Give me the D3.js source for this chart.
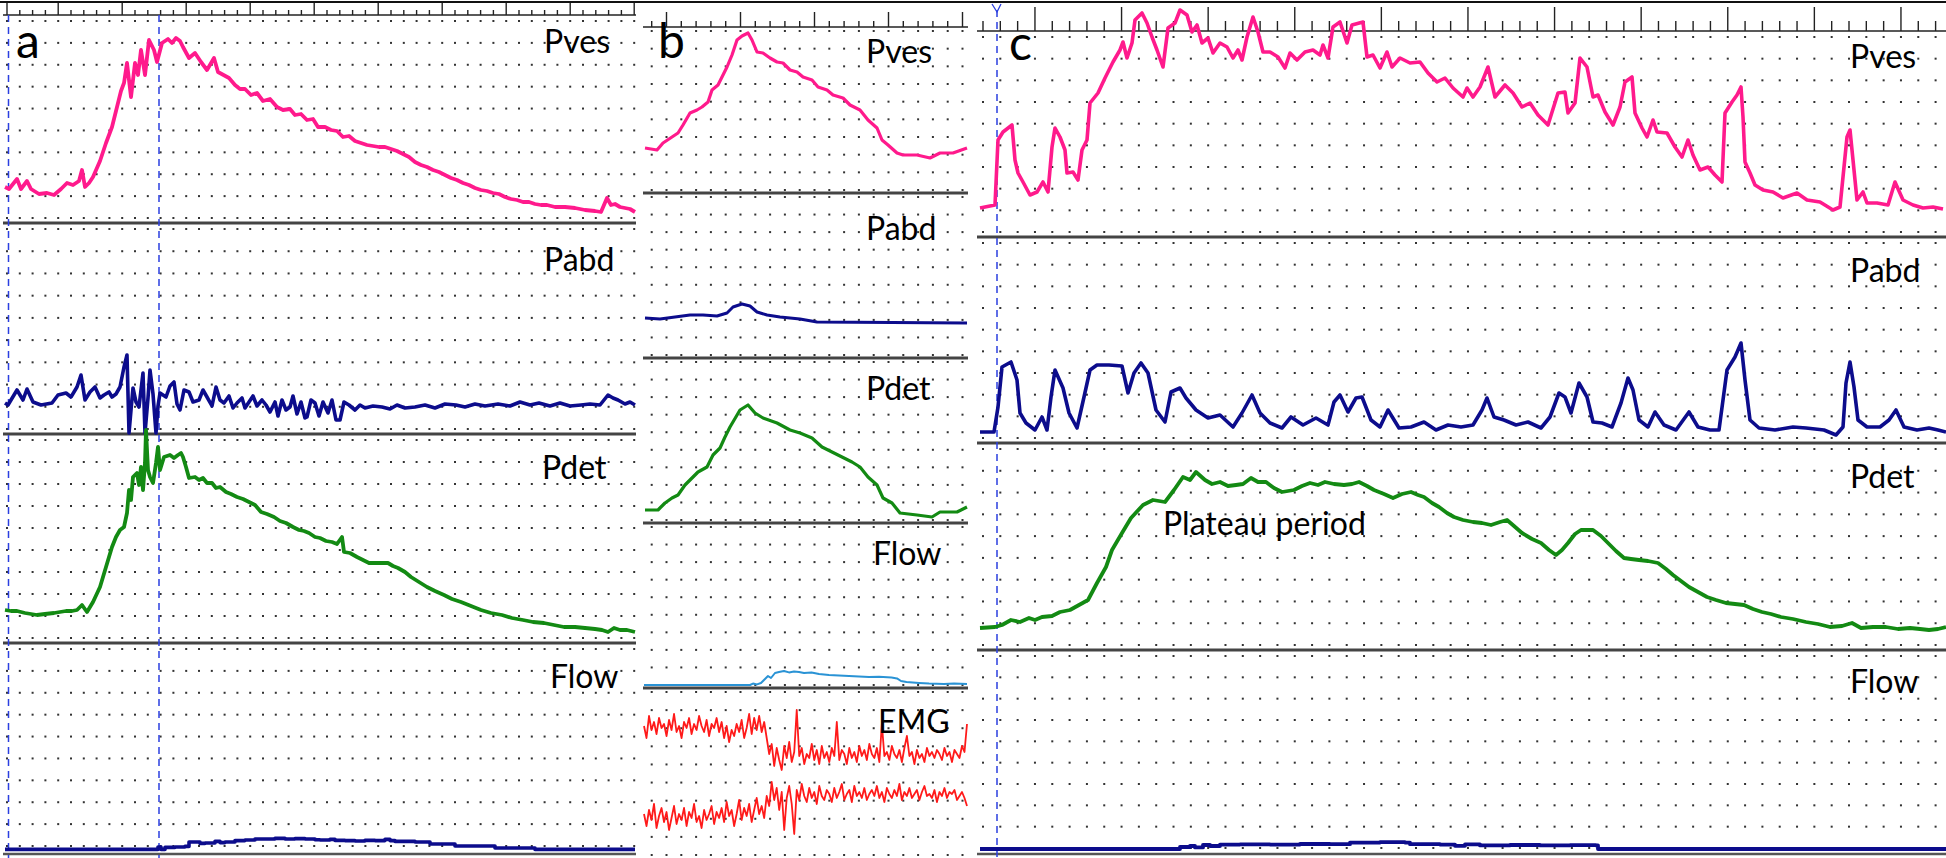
<!DOCTYPE html>
<html>
<head>
<meta charset="utf-8">
<script src="https://cdn.jsdelivr.net/npm/d3@7"></script>
<style>
  html, body { margin: 0; padding: 0; background: #fff; }
  svg { display: block; }
</style>
</head>
<body>
<div id="chart"></div>
<script>

// ---- data: [time (s), value] ----

const aPves = [[0,18],[0.4,17],[1.2,22],[1.6,17],[2.2,21],[2.6,17],[3.4,14.5],[4.2,15],[4.9,14],[5.6,17],[6.2,20],[6.8,19],[7.4,21],[7.7,26.5],[8.0,18],[8.4,20],[8.8,23],[9.5,31],[10.1,40],[10.7,48],[11.2,58],[11.6,66],[11.9,70],[12.2,80],[12.6,63],[13.0,80],[13.3,74],[13.6,86.5],[14.0,74],[14.4,91.5],[14.9,86.5],[15.2,80.5],[15.7,90],[16.3,92],[16.7,90],[17.1,92.5],[17.5,91],[17.8,88],[18.4,82.5],[19.0,85],[19.6,80.5],[20.2,76.5],[20.9,82.5],[21.3,75.5],[22.4,72.5],[23.0,69],[23.5,67],[24.0,67],[24.6,64],[25.2,65],[25.8,61],[26.5,62],[27.2,58],[27.8,56.5],[28.5,57],[29.0,54],[29.6,54.5],[30.2,51.5],[30.8,52],[31.3,48],[32.0,48],[32.6,46.5],[33.2,46],[33.8,43],[34.4,43.5],[35.0,41],[35.6,40],[36.2,39],[36.8,38.5],[37.4,38],[38.0,38],[38.6,37],[39.2,36],[39.8,34.5],[40.4,33],[41,30.5],[41.6,29],[42.2,28],[42.8,26.5],[43.4,25.5],[44,24],[44.6,22.5],[45.2,21.5],[45.8,20],[46.4,19],[47,17.5],[47.6,16.5],[48.2,16],[48.8,15],[49.4,14.5],[50,13],[50.6,12],[51.2,11.5],[51.8,10.5],[52.4,10.5],[53,9.5],[53.6,9],[54.2,9],[55,8],[56,8],[57,7.5],[58,6.5],[59,6],[59.6,5.5],[60.2,12.5],[60.6,9],[61,9.5],[61.5,8],[62,7.5],[62.5,7],[63,5.5]];

const aPabd = [[0,15.5],[0.3,14.5],[1.2,22],[1.8,17],[2.2,22.5],[2.8,16],[3.6,14.5],[4.7,15.5],[5.3,19.5],[6.1,20.5],[6.6,18.5],[7.2,23.5],[7.6,29.5],[8.0,17],[8.5,21],[9.0,23.5],[9.5,18],[9.9,19.5],[10.4,21],[10.7,18.5],[11.1,20],[11.5,23.5],[11.9,33.5],[12.2,39.5],[12.4,0.5],[12.6,12],[12.8,23],[13.1,16],[13.4,13.5],[13.8,30.5],[14.0,0.5],[14.3,18],[14.5,32],[14.8,20],[15.1,0.5],[15.3,14],[15.5,20.5],[16.1,18.5],[16.5,24],[16.9,26],[17.2,15],[17.5,12],[17.9,22],[18.4,21],[18.8,16],[19.4,17],[19.8,22],[20.2,18.5],[20.7,14],[21.1,23.5],[21.5,17],[21.9,15.5],[22.4,19],[22.8,13],[23.2,15.5],[23.7,18],[24.0,13],[24.4,16],[24.8,19],[25.2,14],[25.7,17],[26.1,14.5],[26.5,11],[27,16],[27.3,9],[27.7,17],[28.1,12],[28.5,13.5],[28.8,19],[29.2,10],[29.6,16],[30,8],[30.2,8.5],[30.6,17],[31.0,15.5],[31.4,9],[31.8,16],[32.3,10.5],[32.7,17],[33.1,7],[33.5,7],[33.9,16],[34.4,14.5],[35,12],[35.5,14.5],[36.0,13],[36.8,14],[37.7,13.5],[38.5,12.5],[39.2,14.5],[40,13],[41.0,13.5],[42,14.5],[43,13],[44,15],[45.1,14.5],[46,13.5],[47,15],[48,14],[49.3,15],[50.5,14],[51.5,16],[52.5,14.5],[53.4,15.5],[54.5,14],[55.5,15.5],[56.5,14],[57.6,14.5],[58.5,15],[59.5,14.5],[60.3,19.5],[60.8,18],[61.3,17],[62,15],[62.5,16],[63.0,14.5]];

const aPdet = [[0,16.5],[0.6,16],[1.2,16],[2,15],[2.6,14.5],[3.2,14],[4,14.5],[4.9,15],[5.5,15.5],[6.1,16],[6.7,16],[7.2,16.5],[7.7,19],[8.2,15.5],[8.8,20.5],[9.5,28],[10.1,38],[10.7,48],[11.1,53],[11.5,56.5],[11.9,58],[12.2,65],[12.4,76.5],[12.6,71.5],[12.8,83],[13.2,85],[13.4,79],[13.6,88],[13.8,76.5],[14.0,90],[14.1,106.5],[14.3,86.5],[14.5,83],[14.8,80],[15.1,90],[15.3,98],[15.5,86.5],[15.9,93],[16.5,94],[16.9,92.5],[17.3,94],[17.6,95],[17.8,93],[18.1,88],[18.4,82.5],[19.0,83],[19.4,81.5],[19.8,82.5],[20.2,80],[20.7,80],[21.1,77.5],[21.5,78],[22.1,75.5],[22.6,74.5],[23.2,73],[23.8,72],[24.4,70.5],[25,69],[25.6,65.5],[26.2,64.5],[26.9,63],[27.5,61],[28.1,60],[28.8,58],[29.4,56.5],[29.9,56],[30.4,55],[31,53],[31.5,52.5],[32.1,51],[32.7,50.5],[33.2,49.5],[33.7,53],[33.9,45.5],[34.5,45],[35.2,43],[35.8,41.5],[36.4,40],[37,40],[37.6,40],[38.3,40],[38.8,38.5],[39.3,37.5],[40,35.5],[40.6,33],[41.4,30.5],[42.2,28],[43,26],[43.9,24],[44.7,22],[45.6,20.5],[46.6,18.5],[47.6,16.5],[48.6,15],[49.7,14],[50.7,12.5],[51.8,11.5],[52.8,10.5],[53.9,10],[54.9,9],[55.9,8],[57,8],[58.0,7.5],[59,7],[59.7,6.5],[60.3,5.5],[60.9,7.5],[61.5,6.5],[62.2,6.5],[63.0,5.5]];

const aFlow = [[0,0.8],[15.0,0.8],[15.3,2],[15.6,0.8],[16,1.8],[17,2],[18,2.3],[18.4,4.5],[19,4.5],[19.5,3.8],[20,4],[21,4.8],[21.5,4.2],[22,4.5],[23,5.2],[24,5.5],[25,6],[26,6],[27,6.3],[28,6],[29,6.2],[30,6],[31,5.6],[31.5,5.5],[32.5,5.8],[33,5.3],[34,5.2],[35,5],[36,5.3],[37,5.2],[38,5.8],[38.5,5.2],[39,4.8],[41,4.5],[42.5,3.5],[44.5,3.5],[45,2.5],[48.5,2.5],[49,1.5],[52,1.5],[53,0.8],[63,0.8]];

const bPves = [[0.2,22.5],[2.6,21.5],[3.8,25],[5.6,28],[6.8,30],[7.8,34],[9.2,40],[10.6,41.5],[11.6,43],[12.8,45.5],[13.6,51.5],[14.8,54],[15.8,59],[16.6,63],[17.6,69],[18.6,76.5],[19.6,78.5],[20.8,80],[21.6,76.5],[22.6,70.5],[23.8,70],[25.2,67.5],[26.6,65.5],[27.8,65],[29.2,61.5],[30.6,60.5],[31.8,58],[33.6,56.5],[34.8,53],[36.6,51.5],[37.8,49],[39.8,47.5],[41.2,44],[43.2,41.5],[44.8,36.5],[46.6,32.5],[47.6,26.5],[48.8,24],[50.6,20],[51.8,19],[54.6,19],[57.2,17.5],[59.2,20],[61.8,20],[64.6,22.5]];

const bPabd = [[0.2,20],[3.2,19.5],[9.2,21.5],[11.8,21.5],[14.6,21],[16.6,22.5],[17.8,25.5],[19.6,27],[21.2,26],[22.6,23],[24.6,21.5],[27.2,20.5],[31.2,19.5],[34.6,18],[64.6,17.5]];

const bPdet = [[0.2,6.5],[2.8,6.5],[4.2,10],[5.6,12.5],[6.8,14],[8.2,19],[9.6,22.5],[10.8,25.5],[12.6,28],[13.8,34],[15.2,37.5],[16.2,43],[17.2,48],[19.2,56.5],[20.8,59],[22.2,55],[23.8,52.5],[26.6,50],[29.2,46.5],[31.2,45],[33.6,42.5],[35.6,38],[37.6,35.5],[39.6,33],[41.6,30.5],[43.2,28],[44.8,23],[46.6,19],[47.8,12.5],[49.6,10],[51.2,5],[54.6,4],[57.6,3],[59.2,5.5],[62.6,5.5],[64.6,8]];

const bFlow = [[0,1.5],[21.2,1.5],[21.8,2.2],[22.6,1.8],[23.4,2.5],[24.2,4.5],[24.8,6],[25.4,5],[26.2,7.5],[27,8],[28,8.5],[29,7.8],[30,8.3],[31,8],[32,7.5],[33.5,7.8],[35,7],[37,6.5],[39,6.2],[41,6],[43,5.8],[45,5.5],[47,5.6],[49.5,5.2],[50.6,4.8],[51.4,3.5],[52.5,3],[55,2.5],[57,2.2],[60,2],[62,2.3],[64.6,2]];

// EMG: equally spaced samples over the whole b trace
const emgUpper = [66,60,71,64,68,62,70,65,67,61,69,64,72,63,66,60,68,65,70,62,67,64,71,66,63,69,61,67,65,70,63,68,60,66,58,64,61,67,63,69,60,65,72,62,70,64,71,63,68,60,52,57,46,55,49,44,56,50,58,48,53,74,51,55,47,52,50,57,49,54,47,56,50,53,48,55,51,68,49,54,52,47,55,50,53,48,56,51,54,49,57,52,50,55,48,67,51,53,49,56,52,50,54,48,55,61,51,53,47,54,50,52,48,55,51,53,50,54,52,49,55,51,53,48,54,52,50,56,53,67];
const emgLower = [22,16,24,19,27,15,21,25,18,23,14,20,26,17,22,19,25,16,23,20,27,18,21,15,24,19,22,26,17,23,20,25,18,28,21,24,16,22,29,19,25,21,27,18,24,30,22,26,20,31,26,38,29,35,24,33,14,30,36,27,12,34,29,37,31,28,35,30,33,27,36,31,29,34,32,28,35,30,33,37,29,32,34,28,36,31,33,30,35,29,32,34,31,36,30,33,28,35,32,30,34,31,37,29,33,31,35,30,32,34,29,33,36,31,32,30,34,28,33,31,35,30,33,32,34,29,31,33,30,26];

const cPves = [[0,14.5],[1.5,16],[1.8,48.5],[2.3,52.5],[3.2,56],[3.5,38.5],[3.8,32],[4.3,27.5],[5.0,21],[5.7,22.5],[6.3,27.5],[6.8,22.5],[7.2,45],[7.5,54.5],[8.0,50],[8.5,43.5],[8.7,32],[9.3,32.5],[9.8,28.5],[10.2,43.5],[10.7,48.5],[11.0,67],[11.8,72],[12.5,79.5],[13.3,87.5],[14.0,93.5],[14.3,97.5],[14.7,89.5],[15.2,97],[15.5,108.5],[16.2,112],[16.7,107],[17.2,100],[17.7,93.5],[18.3,85],[18.8,104.5],[19.5,107],[20.0,113.5],[20.7,111],[21.2,102.5],[21.7,106],[22.2,97],[22.8,99.5],[23.3,92],[24.0,97],[24.7,95],[25.3,89.5],[25.8,93.5],[26.2,88.5],[26.7,100],[27.3,110],[27.8,102.5],[28.3,92.5],[29.0,92.5],[29.8,90],[30.5,84.5],[31.0,92],[31.7,88.5],[32.5,92.5],[33.3,93.5],[34.0,91],[34.3,96],[34.8,89.5],[35.3,105],[36.0,107.5],[36.7,97],[37.2,106],[38.3,107.5],[38.7,90],[39.3,91],[40.0,84.5],[40.7,92.5],[41.2,85],[42.0,89.5],[43.0,87],[44.0,87.5],[44.8,82],[45.7,77.5],[46.5,79.5],[47.3,74.5],[48.3,70],[48.7,74.5],[49.3,70],[50.0,75],[50.8,85],[51.5,70],[52.5,76],[53.3,72],[54.2,65],[55.0,67],[55.8,61],[56.8,56],[57.8,72],[58.5,72.5],[58.8,62],[59.5,67],[60.0,89.5],[60.7,85],[61.3,70],[61.8,71],[62.5,62.5],[63.3,56],[64.0,65],[64.5,77.5],[65.2,80],[65.5,62],[66.2,54.5],[66.7,50],[67.3,58.5],[67.7,52.5],[68.7,52],[69.5,45],[70.2,40],[70.8,48.5],[71.3,41],[72.0,33.5],[72.8,35],[73.5,31],[74.2,27.5],[74.5,62],[75.2,67.5],[75.7,71],[76.1,75],[76.3,60],[76.5,37.5],[77.0,32],[77.5,26],[78.3,23.5],[79.3,22.5],[80.3,19.5],[81.7,22],[82.7,18.5],[84.0,17.5],[85.3,13.5],[86.0,15],[86.7,50],[87.0,53.5],[87.3,38.5],[87.7,18.5],[88.3,22.5],[88.7,17],[89.7,17],[90.8,16],[91.5,27.5],[92.3,18.5],[93.3,16],[94.3,14.5],[95.3,15],[96.3,14]];

const cPabd = [[0,5.5],[1.4,5.5],[1.8,18],[2.2,38],[3.1,40.5],[3.7,31.5],[4.0,15],[4.6,10],[5.5,6.5],[6.2,13],[6.7,6.5],[7.1,23],[7.5,36.5],[8.3,27.5],[8.9,15],[9.7,7.5],[10.4,23],[11.0,36.5],[11.7,39],[12.9,39],[14.2,38.5],[14.8,25],[15.4,35],[16.1,40],[16.8,35],[17.6,16.5],[18.5,10.5],[19.1,25.5],[20.0,27.5],[20.6,22.5],[21.6,16.5],[22.8,12.5],[24.0,14],[25.3,8],[26.2,15],[27.2,24],[28.0,15],[29.0,10],[30.2,7.5],[31.1,13],[32.3,9],[33.6,12.5],[34.8,9],[35.4,20.5],[36.0,24],[36.8,15.5],[37.6,22.5],[38.2,23],[39.1,11.5],[40.0,8],[40.8,16.5],[41.9,7.5],[43.1,8],[44.4,10.5],[45.6,6.5],[46.8,9],[48.1,8],[49.3,9],[50.2,16.5],[50.7,22.5],[51.4,13],[52.4,11.5],[53.6,9],[54.8,10.5],[56.1,7.5],[57.0,13],[57.9,25],[58.5,23],[59.1,15],[59.9,30],[60.7,23],[61.3,10.5],[62.2,10],[63.2,8],[64.1,20],[64.8,32.5],[65.3,26.5],[65.9,11.5],[66.8,8],[67.5,15.5],[68.4,9],[69.6,6.5],[70.9,15.5],[71.8,8],[73.0,6.5],[73.9,6.5],[74.7,36.5],[75.5,43],[76.1,50],[76.5,31.5],[77.0,11.5],[77.9,7.5],[79.5,6.5],[81.3,8],[82.6,7.5],[84.4,6.5],[85.6,4],[86.3,8],[86.6,30],[87.0,40.5],[87.4,28],[87.8,11.5],[88.7,8],[90.0,8],[90.9,11.5],[91.6,16.5],[92.4,8],[93.7,6.5],[94.9,7.5],[95.8,6.5],[96.6,5.5]];

const cPdet = [[0,11],[1.5,11.5],[2.2,12.5],[3.1,15],[4.0,14],[4.9,16],[5.5,15],[6.2,16.5],[7.2,17],[8.0,19],[9.0,20],[9.9,22.5],[10.8,25],[11.7,33.5],[12.6,41.5],[13.2,50],[14.2,58.5],[15.1,66],[16.3,72.5],[17.3,75],[18.5,74],[19.4,80],[20.3,86.5],[21.0,85],[21.6,89],[22.5,85],[23.2,83],[24.0,84],[24.8,82],[25.6,82.5],[26.3,83],[27.1,86],[27.8,84],[28.6,84],[29.4,81],[30.2,79],[31.4,80],[32.2,82],[33.0,83.5],[33.8,82.5],[34.5,84],[35.4,83],[36.4,82.5],[37.2,83],[37.9,84],[38.7,82],[39.4,80],[40.4,78],[41.3,76],[42.2,78],[43.1,79],[43.8,77.5],[44.4,76.5],[45.2,73.5],[45.9,71.5],[46.7,68.5],[47.4,66.5],[48.3,65],[49.3,64],[50.2,63.5],[51.1,62.5],[52.0,64],[52.7,65],[53.4,62],[54.2,58.5],[55.2,55.5],[56.1,53.5],[56.9,50],[57.6,47.5],[58.2,50],[58.8,53.5],[59.5,58],[60.1,60],[61.3,60],[62.1,57],[62.8,53.5],[63.6,49.5],[64.4,46],[65.1,45.5],[65.9,45],[66.8,44.5],[67.8,43.5],[68.6,40.5],[69.3,37.5],[70.1,34.5],[70.9,31.5],[71.8,29],[72.7,26.5],[73.6,25],[74.6,23.5],[75.5,23],[76.4,22.5],[77.3,20.5],[78.2,19],[79.1,18],[80.1,16.5],[81.3,15.5],[82.6,14],[83.8,13],[85.0,11.5],[86.2,12],[87.2,13.5],[88.1,11],[89.3,11.5],[90.6,11.5],[91.8,10.5],[93.0,11],[94.0,10.5],[94.9,10],[95.8,10.5],[96.6,11.5]];

const cFlow = [[0,2],[19.4,2],[20,3],[21,3.5],[21.5,2.8],[22.3,4],[23,3.5],[24,4.2],[26,4.3],[29,4.2],[32,4.5],[35,4.4],[37,5.2],[40,5.4],[42.5,5.2],[43,4.4],[46,4.2],[47.5,3.6],[48.5,4.3],[50,3.8],[53,4.0],[56,3.8],[59,3.9],[61.6,3.8],[61.8,2],[96.6,2]];

const panelLetters = ["a", "b", "c"];
const channelNames = ["Pves", "Pabd", "Pdet", "Flow", "EMG"];
const annotation = "Plateau period";

// ---- layout ----

const width = 1946;
const height = 858;

const colPves = "#ff1a8c";
const colPabd = "#0c0c8c";
const colPdet = "#138a13";
const colFlowB = "#2a93d5";
const colEmg = "#ff1a1a";

const panels = [
  {
    letter: panelLetters[0], letterPos: [16, 58],
    left: 3, right: 636, x0: 5, x1: 635, tMax: 63,
    rulerY: 15, majorTop: 3, minorTop: 10,
    tickStart: 0.2, tickStep: 1.28, majorPhase: 4, firstMajor: true,
    rowInset: [6, 5], bottomLine: 854,
    cursors: [0.35, 15.4], cursorTop: 15,
    strips: [
      { name: channelNames[0], top: 15, bottom: 223, label: [544, 53],
        series: [{ data: aPves, color: colPves, w: 3.8 }] },
      { name: channelNames[1], top: 223, bottom: 434, label: [544, 271],
        series: [{ data: aPabd, color: colPabd, w: 3.6 }] },
      { name: channelNames[2], top: 434, bottom: 643, label: [542, 479],
        series: [{ data: aPdet, color: colPdet, w: 3.8 }] },
      { name: channelNames[3], top: 643, bottom: 851, label: [550, 688],
        series: [{ data: aFlow, color: colPabd, w: 3.6, step: true }] }
    ]
  },
  {
    letter: panelLetters[1], letterPos: [658, 58],
    left: 643, right: 968, x0: 644, x1: 967, tMax: 64.6,
    rulerY: 27, majorTop: 12, minorTop: 21,
    tickStart: 1.54, tickStep: 2.96, majorPhase: 1, firstMajor: false,
    rowInset: [4, 3], bottomLine: null,
    cursors: [], cursorTop: 0,
    strips: [
      { name: channelNames[0], top: 27, bottom: 193, label: [866, 63],
        series: [{ data: bPves, color: colPves, w: 3.2 }] },
      { name: channelNames[1], top: 193, bottom: 358, label: [866, 240],
        series: [{ data: bPabd, color: colPabd, w: 3 }] },
      { name: channelNames[2], top: 358, bottom: 523, label: [866, 400],
        series: [{ data: bPdet, color: colPdet, w: 3.2 }] },
      { name: channelNames[3], top: 523, bottom: 688, label: [873, 565],
        series: [{ data: bFlow, color: colFlowB, w: 2 }] },
      { name: channelNames[4], top: 688, bottom: 858, label: [878, 733],
        series: [
          { data: emgUpper, color: colEmg, w: 1.8, indexed: true },
          { data: emgLower, color: colEmg, w: 1.8, indexed: true }
        ] }
    ]
  },
  {
    letter: panelLetters[2], letterPos: [1009, 60],
    left: 977, right: 1946, x0: 980, x1: 1946, tMax: 96.6,
    rulerY: 31, majorTop: 7, minorTop: 21,
    tickStart: 0.3, tickStep: 1.732, majorPhase: 3, firstMajor: false,
    rowInset: [6, 5], bottomLine: 854,
    cursors: [1.7], cursorTop: 10,
    strips: [
      { name: channelNames[0], top: 31, bottom: 237, label: [1850, 68],
        series: [{ data: cPves, color: colPves, w: 3.6 }] },
      { name: channelNames[1], top: 237, bottom: 443, label: [1850, 282],
        series: [{ data: cPabd, color: colPabd, w: 3.6 }] },
      { name: channelNames[2], top: 443, bottom: 650, label: [1850, 488],
        series: [{ data: cPdet, color: colPdet, w: 3.8 }] },
      { name: channelNames[3], top: 650, bottom: 853, label: [1850, 693],
        series: [{ data: cFlow, color: colPabd, w: 3.8, step: true }] }
    ],
    note: { text: annotation, pos: [1163, 535] }
  }
];

// ---- drawing ----

const svg = d3.select("#chart")
  .append("svg")
  .attr("width", width)
  .attr("height", height)
  .style("background", "#fff")
  .style("font-family", "Lato, 'Open Sans', sans-serif");

svg.append("line")
  .attr("x1", 0).attr("x2", width)
  .attr("y1", 2).attr("y2", 2)
  .attr("stroke", "#111")
  .attr("stroke-width", 2);

panels.forEach(drawPanel);

function drawPanel(p) {

  const g = svg.append("g");

  const x = d3.scaleLinear()
    .domain([0, p.tMax])
    .range([p.x0, p.x1]);

  const cols = d3.range(p.tickStart, p.tMax + 0.05, p.tickStep);

  // dotted grid
  const dots = [];
  p.strips.forEach(s => {
    const inner = s.bottom - s.top - p.rowInset[0] - p.rowInset[1];
    d3.range(10).forEach(k => {
      const yy = s.top + p.rowInset[0] + k * inner / 9;
      cols.forEach(c => dots.push([x(c), yy]));
    });
  });

  g.append("g")
    .selectAll("rect")
    .data(dots)
    .join("rect")
    .attr("x", d => d[0] - 1)
    .attr("y", d => d[1] - 1)
    .attr("width", 2)
    .attr("height", 2)
    .attr("fill", "#333");

  // ruler on top
  g.append("line")
    .attr("x1", p.left).attr("x2", p.right)
    .attr("y1", p.rulerY).attr("y2", p.rulerY)
    .attr("stroke", "#222")
    .attr("stroke-width", 1.5);

  g.append("g")
    .selectAll("line")
    .data(cols)
    .join("line")
    .attr("x1", d => x(d))
    .attr("x2", d => x(d))
    .attr("y1", (d, i) =>
      (i % 5 === p.majorPhase || (p.firstMajor && i === 0))
        ? p.majorTop
        : p.minorTop)
    .attr("y2", p.rulerY)
    .attr("stroke", "#222")
    .attr("stroke-width", 1.4);

  // channel separators
  p.strips.slice(1).forEach(s => {
    g.append("line")
      .attr("x1", p.left).attr("x2", p.right)
      .attr("y1", s.top).attr("y2", s.top)
      .attr("stroke", "#444")
      .attr("stroke-width", 2.8);
  });

  if (p.bottomLine) {
    g.append("line")
      .attr("x1", p.left).attr("x2", p.right)
      .attr("y1", p.bottomLine).attr("y2", p.bottomLine)
      .attr("stroke", "#555")
      .attr("stroke-width", 2.5);
  }

  // cursors
  p.cursors.forEach(t => {
    g.append("line")
      .attr("x1", x(t)).attr("x2", x(t))
      .attr("y1", p.cursorTop).attr("y2", height)
      .attr("stroke", "#2b3fe0")
      .attr("stroke-width", 1.5)
      .attr("stroke-dasharray", "7,5");
  });

  if (p.letter === "c") {
    const cx = x(p.cursors[0]);
    g.append("path")
      .attr("d", `M${cx - 5},4 L${cx},12 L${cx + 4},4`)
      .attr("fill", "none")
      .attr("stroke", "#2b3fe0")
      .attr("stroke-width", 1.3);
  }

  // traces
  p.strips.forEach(s => {

    const y = d3.scaleLinear()
      .domain([0, 100])
      .range([s.bottom, s.bottom - 200]);

    s.series.forEach(ser => {

      const xi = d3.scaleLinear()
        .domain([0, ser.data.length - 1])
        .range([p.x0, p.x1]);

      const line = d3.line()
        .x((d, i) => ser.indexed ? xi(i) : x(d[0]))
        .y(d => ser.indexed ? y(d) : y(d[1]))
        .curve(ser.step ? d3.curveStepAfter : d3.curveLinear);

      g.append("path")
        .datum(ser.data)
        .attr("d", line)
        .attr("fill", "none")
        .attr("stroke", ser.color)
        .attr("stroke-width", ser.w)
        .attr("stroke-linejoin", "round");
    });

    g.append("text")
      .attr("x", s.label[0])
      .attr("y", s.label[1])
      .attr("font-size", 32)
      .attr("fill", "#000")
      .text(s.name);
  });

  g.append("text")
    .attr("x", p.letterPos[0])
    .attr("y", p.letterPos[1])
    .attr("font-size", 48)
    .attr("fill", "#000")
    .text(p.letter);

  if (p.note) {
    g.append("text")
      .attr("x", p.note.pos[0])
      .attr("y", p.note.pos[1])
      .attr("font-size", 32)
      .attr("fill", "#000")
      .text(p.note.text);
  }
}
</script>
</body>
</html>
